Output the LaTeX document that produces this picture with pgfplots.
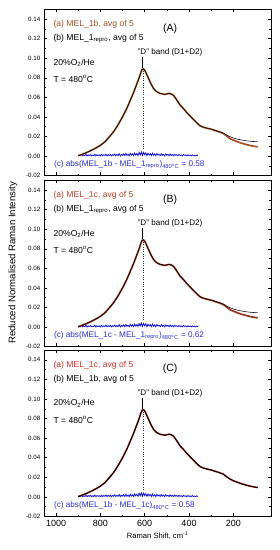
\documentclass[border=0pt]{standalone}
\usepackage{fontspec}
\setmainfont{Liberation Sans}
\usepackage{pgfplots}
\usepackage{pgfplotstable}
\pgfplotsset{compat=1.18}

\definecolor{brownA}{RGB}{165,80,35}
\definecolor{redB}{RGB}{190,65,40}
\definecolor{redC}{RGB}{215,50,40}
\definecolor{diffblue}{RGB}{25,25,225}
\definecolor{txtblue}{RGB}{45,45,215}

% x = Raman shift, a = sample (a), b = sample (b)
\pgfplotstableread{
x a b
900 0.0003 0.0003
880 0.0020 0.0020
860 0.0038 0.0038
840 0.0060 0.0060
820 0.0083 0.0083
800 0.0110 0.0110
780 0.0145 0.0145
760 0.0195 0.0195
740 0.0250 0.0250
720 0.0320 0.0320
700 0.0400 0.0400
680 0.0490 0.0490
665 0.0570 0.0570
650 0.0650 0.0650
635 0.0740 0.0740
625 0.0800 0.0800
618 0.0850 0.0850
612 0.0885 0.0885
605 0.0890 0.0890
598 0.0870 0.0870
590 0.0830 0.0830
580 0.0780 0.0780
570 0.0730 0.0730
560 0.0690 0.0690
550 0.0665 0.0665
540 0.0650 0.0650
530 0.0640 0.0640
520 0.0635 0.0635
510 0.0630 0.0630
500 0.0635 0.0635
490 0.0640 0.0640
480 0.0635 0.0635
470 0.0620 0.0620
460 0.0590 0.0590
450 0.0555 0.0555
440 0.0520 0.0520
425 0.0485 0.0485
410 0.0445 0.0445
395 0.0410 0.0410
380 0.0375 0.0375
365 0.0340 0.0340
350 0.0310 0.0310
335 0.0295 0.0295
320 0.0285 0.0285
300 0.0275 0.0275
280 0.0260 0.0260
260 0.0245 0.0248
245 0.0230 0.0235
230 0.0205 0.0215
215 0.0178 0.0198
200 0.0163 0.0185
180 0.0145 0.0172
160 0.0130 0.0163
140 0.0117 0.0156
120 0.0106 0.0151
100 0.0098 0.0148
90  0.0095 0.0146
}\curveAB

\pgfplotstableread{
x a b
900 0.0003 0.0003
880 0.0020 0.0020
860 0.0038 0.0038
840 0.0060 0.0060
820 0.0083 0.0083
800 0.0110 0.0110
780 0.0145 0.0145
760 0.0195 0.0195
740 0.0250 0.0250
720 0.0320 0.0320
700 0.0400 0.0400
680 0.0490 0.0490
665 0.0570 0.0570
650 0.0650 0.0650
635 0.0740 0.0740
625 0.0800 0.0800
618 0.0850 0.0850
612 0.0885 0.0885
605 0.0890 0.0890
598 0.0870 0.0870
590 0.0830 0.0830
580 0.0780 0.0780
570 0.0730 0.0730
560 0.0690 0.0690
550 0.0665 0.0665
540 0.0650 0.0650
530 0.0640 0.0640
520 0.0635 0.0635
510 0.0630 0.0630
500 0.0635 0.0635
490 0.0640 0.0640
480 0.0635 0.0635
470 0.0620 0.0620
460 0.0590 0.0590
450 0.0555 0.0555
440 0.0520 0.0520
425 0.0485 0.0485
410 0.0445 0.0445
395 0.0410 0.0410
380 0.0375 0.0375
365 0.0340 0.0340
350 0.0310 0.0310
335 0.0295 0.0295
320 0.0285 0.0285
300 0.0275 0.0275
280 0.0260 0.0260
260 0.0246 0.0246
245 0.0232 0.0232
230 0.0205 0.0206
215 0.0182 0.0183
200 0.0165 0.0165
180 0.0148 0.0148
160 0.0132 0.0133
140 0.0119 0.0119
120 0.0108 0.0108
100 0.0099 0.0099
90  0.0096 0.0096
}\curveC

\pgfplotstableread{
x d
900 0.0002
895 0.0012
890 0.0004
885 0.0016
880 0.0003
875 0.0010
870 0.0005
865 0.0018
860 0.0002
855 0.0013
850 0.0006
845 0.0015
840 0.0003
835 0.0011
830 0.0005
825 0.0019
820 0.0002
815 0.0014
810 0.0006
805 0.0012
800 0.0003
795 0.0017
790 0.0004
785 0.0013
780 0.0007
775 0.0020
770 0.0003
765 0.0015
760 0.0006
755 0.0018
750 0.0002
745 0.0014
740 0.0007
735 0.0021
730 0.0004
725 0.0016
720 0.0006
715 0.0024
710 0.0003
705 0.0017
700 0.0008
695 0.0022
690 0.0005
685 0.0026
680 0.0007
675 0.0019
670 0.0004
665 0.0028
660 0.0009
655 0.0023
650 0.0005
645 0.0031
640 0.0010
635 0.0027
630 0.0006
625 0.0036
620 0.0012
615 0.0042
610 0.0008
605 0.0038
600 0.0014
595 0.0033
590 0.0006
585 0.0029
580 0.0011
575 0.0025
570 0.0005
565 0.0030
560 0.0009
555 0.0022
550 0.0004
545 0.0026
540 0.0010
535 0.0019
530 0.0005
525 0.0024
520 0.0008
515 0.0018
510 0.0003
505 0.0022
500 0.0009
495 0.0017
490 0.0004
485 0.0021
480 0.0007
475 0.0015
470 0.0003
465 0.0019
460 0.0008
455 0.0014
450 0.0004
445 0.0017
440 0.0006
435 0.0012
430 0.0003
425 0.0016
420 0.0007
415 0.0011
410 0.0002
405 0.0014
400 0.0006
395 0.0010
390 0.0003
385 0.0013
380 0.0005
375 0.0009
370 0.0002
365 0.0011
360 0.0004
}\diffdata

\pgfplotsset{
  panel/.style={
    scale only axis, width=226.7pt, height=166.5pt,
    x dir=reverse, xmin=30, xmax=1053, ymin=-0.02, ymax=0.15,
    xtick={200,400,600,800,1000}, minor x tick num=1,
    ytick={-0.02,0,0.02,0.04,0.06,0.08,0.10,0.12,0.14}, minor y tick num=1,
    tick align=inside, major tick length=3.2pt, minor tick length=1.8pt,
    scaled y ticks=false,
    /pgf/number format/assume math mode=true,
    /pgf/number format/1000 sep={},
    yticklabel style={/pgf/number format/.cd, fixed, fixed zerofill, precision=2, /tikz/.cd,
      font=\fontsize{6.2}{7}\selectfont, xshift=-0.5pt},
    xticklabel style={font=\fontsize{9}{10}\selectfont, /pgf/number format/1000 sep={}},
    axis line style={line width=0.6pt},
    every tick/.style={black, line width=0.5pt},
  },
}
\tikzset{txt/.style={anchor=west, inner sep=0pt, font=\fontsize{8.6}{10}\selectfont}}

\newcommand{\annot}[5]{% #1 color a, #2 text a, #3 text b, #4 panel letter, #5 text c
  \node[txt, text=#1] at (axis cs:1012,0.1345) {#2};
  \node[txt] at (axis cs:1012,0.1202) {#3};
  \node[anchor=center, inner sep=0pt, font=\fontsize{10.5}{12}\selectfont] at (axis cs:485,0.1305) {#4};
  \node[txt] at (axis cs:1012,0.0955) {20\%O\textsubscript{2}/He};
  \node[txt] at (axis cs:1012,0.0788) {T = 480\textsuperscript{o}C};
  \node[txt, text=txtblue, font=\fontsize{8.2}{10}\selectfont] at (axis cs:1010,-0.0092) {#5};
  \node[anchor=west, inner sep=0pt, font=\fontsize{8.1}{10}\selectfont] at (axis cs:632,0.1058) {"D" band (D1+D2)};
  \draw[line width=0.4pt] (axis cs:609,0.1015) -- (axis cs:609,0.0895);
  \draw[line width=0.35pt, black!80, dotted] (axis cs:609,0.0895) -- (axis cs:609,0.006);
}

\begin{document}
\begin{tikzpicture}
\useasboundingbox (0,0) rectangle (280pt,550pt);

% Panel A
\begin{axis}[panel, at={(44.3pt,374.3pt)}, anchor=south west, xticklabels={}]
  \addplot[diffblue, line width=0.85pt] table[x=x, y=d] {\diffdata};
  \addplot[brownA, line width=1.7pt] table[x=x, y=a] {\curveAB};
  \addplot[black, line width=0.55pt] table[x=x, y=b] {\curveAB};
  \annot{brownA}{(a) MEL\_1b, avg of 5}{(b) MEL\_1\textsubscript{repro}, avg of 5}{(A)}{(c) abs(MEL\_1b - MEL\_1\textsubscript{repro})\textsubscript{480\textsuperscript{o}C} = 0.58}
\end{axis}

% Panel B
\begin{axis}[panel, at={(44.3pt,203.3pt)}, anchor=south west, xticklabels={}]
  \addplot[diffblue, line width=0.85pt] table[x=x, y=d] {\diffdata};
  \addplot[redB!80!black, line width=1.7pt] table[x=x, y=a] {\curveAB};
  \addplot[black, line width=0.55pt] table[x=x, y=b] {\curveAB};
  \annot{redB}{(a) MEL\_1c, avg of 5}{(b) MEL\_1\textsubscript{repro}, avg of 5}{(B)}{(c) abs(MEL\_1c - MEL\_1\textsubscript{repro})\textsubscript{480\textsuperscript{o}C} = 0.62}
\end{axis}

% Panel C
\begin{axis}[panel, at={(44.3pt,33.5pt)}, anchor=south west,
  xlabel={Raman Shift, cm\textsuperscript{-1}},
  xlabel style={font=\fontsize{7.6}{9}\selectfont, yshift=1pt}]
  \addplot[diffblue, line width=0.85pt] table[x=x, y=d] {\diffdata};
  \addplot[redC, line width=1.6pt] table[x=x, y=a] {\curveC};
  \addplot[black, line width=1.0pt] table[x=x, y=b] {\curveC};
  \annot{redC}{(a) MEL\_1c, avg of 5}{(b) MEL\_1b, avg of 5}{(C)}{(c) abs(MEL\_1b - MEL\_1c)\textsubscript{480\textsuperscript{o}C} = 0.58}
\end{axis}

\node[rotate=90, font=\fontsize{9.6}{11}\selectfont] at (13pt,287pt) {Reduced Normalised Raman Intensity};
\end{tikzpicture}
\end{document}
